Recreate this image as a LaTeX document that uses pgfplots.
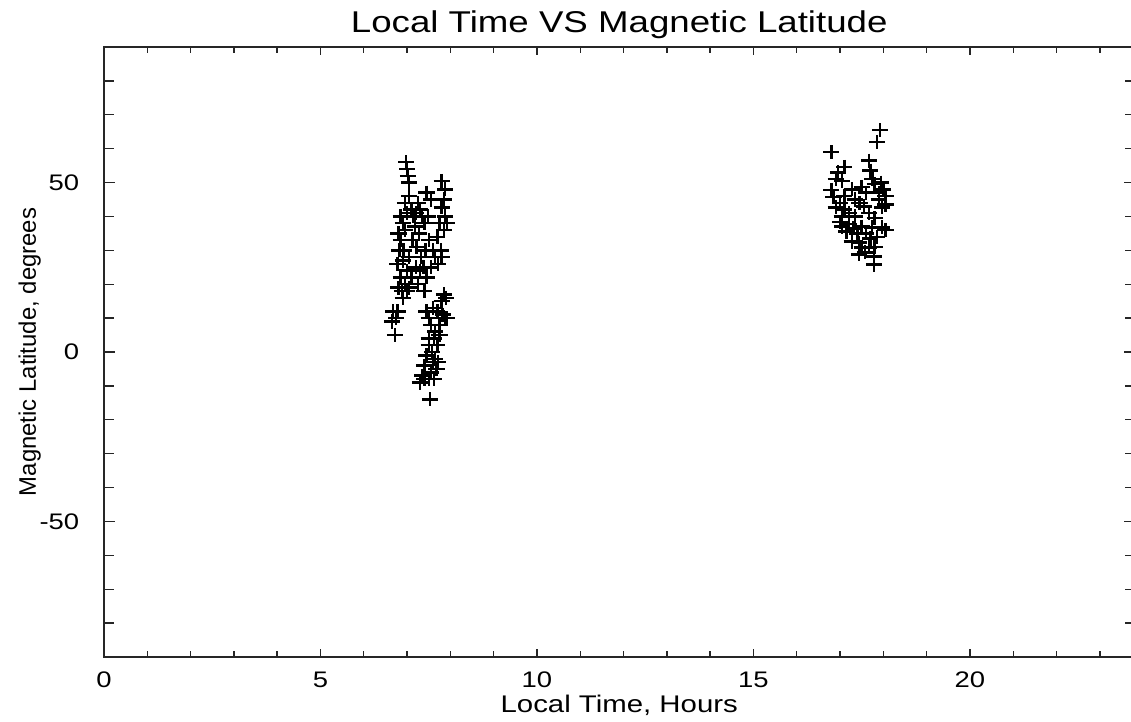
\documentclass[border=0pt]{standalone}
\usepackage{fontspec}
\setmainfont{Liberation Sans}
\usepackage{pgfplots}
\pgfplotsset{compat=1.18}
\begin{document}
\begin{tikzpicture}
\begin{axis}[
  scale only axis,
  width=20.61cm, height=12.2cm,
  xmin=0, xmax=23.8, ymin=-90, ymax=90,
  xtick={0,5,10,15,20}, xticklabels={0,5,10,15,20},
  ytick={-50,0,50}, yticklabels={-50,0,50},
  minor xtick={0,1,...,23}, minor ytick={-90,-80,...,90},
  tick align=inside, xtick pos=both, ytick pos=both,
  axis line style={draw=black!85, line width=0.8pt},
  every tick/.style={draw=black!85, line width=0.8pt},
  xtick style={/pgfplots/major tick length=0.16cm, /pgfplots/minor tick length=0.12cm},
  ytick style={/pgfplots/major tick length=0.22cm, /pgfplots/minor tick length=0.2cm},
  xticklabel style={font=\fontsize{12.8}{15}\selectfont, xscale=1.22, anchor=base, inner sep=0pt, yshift=-0.62cm},
  yticklabel style={font=\fontsize{12.8}{15}\selectfont, xscale=1.22, anchor=east, inner sep=0pt, xshift=-0.4cm},
  title={Local Time VS Magnetic Latitude},
  title style={font=\fontsize{17.1}{20}\selectfont, xscale=1.22, anchor=base, inner sep=0pt, at={([yshift=0.08cm]axis description cs:0.5,1)}},
  xlabel={Local Time, Hours},
  xlabel style={font=\fontsize{13.7}{16}\selectfont, xscale=1.22, anchor=base, inner sep=0pt, at={([yshift=-1.12cm]axis description cs:0.5,0)}},
  ylabel={Magnetic Latitude, degrees},
  ylabel style={font=\fontsize{13.6}{16}\selectfont, anchor=base, inner sep=0pt, rotate=0, at={([xshift=-1.36cm]axis description cs:0,0.5)}},
]
\addplot[only marks, mark=+, mark size=4pt, line width=1.4pt, black, mark options={xscale=1.15}] coordinates {
(6.98,56) (7.0,54) (7.02,52) (7.05,50) (6.95,44) (6.85,40) (6.9,38) (6.8,35) (6.85,33) (6.95,36)
(7.0,41) (7.1,42) (7.15,40) (6.82,30) (6.9,27) (6.78,26) (6.85,22) (6.8,19) (6.88,18) (6.95,20)
(7.0,18) (7.05,19) (6.9,16) (6.78,12) (6.75,10) (6.72,5) (7.1,22) (7.0,24) (7.05,28) (6.92,30)
(7.12,33) (7.18,37) (7.2,41) (7.25,44) (7.05,46) (6.65,9) (6.68,12)
(7.3,42) (7.35,40) (7.4,38) (7.28,35) (7.22,31) (7.32,28) (7.38,25) (7.3,24) (7.45,22) (7.42,30)
(7.5,33) (7.48,40) (7.55,45) (7.45,47) (7.2,25) (7.25,20) (7.4,18)
(7.8,50.5) (7.88,48) (7.85,45) (7.8,42.7) (7.88,40) (7.75,38) (7.85,36) (7.92,38) (7.7,34) (7.78,30)
(7.65,28) (7.72,26) (7.8,28) (7.6,30) (7.55,25) (7.85,17) (7.8,15) (7.9,16) (7.82,11) (7.88,10)
(7.92,10) (7.75,8) (7.7,12) (7.6,13) (7.65,6) (7.55,8) (7.5,10) (7.45,12) (7.62,4) (7.7,2)
(7.58,0) (7.5,2) (7.45,-1) (7.4,-4) (7.6,-3) (7.55,-6) (7.5,-8) (7.4,-8) (7.3,-9) (7.65,-2)
(7.72,-3) (7.68,-5) (7.53,-14) (7.75,5) (7.5,4) (7.35,-7) (7.62,-8)
};
\addplot[only marks, mark=+, mark size=4pt, line width=1.4pt, black, mark options={xscale=1.15}] coordinates {
(17.92,65.5) (17.85,62) (16.8,59) (17.67,56.5) (17.7,53.5) (17.1,54.6) (16.95,53) (16.9,51) (17.05,50.5) (17.75,51)
(17.8,49.5) (17.95,50) (18.0,48) (16.8,47.8) (17.27,48) (17.5,48.7) (17.6,47) (17.9,47) (18.05,46) (16.85,45.7)
(17.0,44) (17.34,45) (17.9,45) (17.97,42.7) (18.05,43.5) (16.9,42.7) (17.1,42) (17.2,41) (17.67,41) (17.55,43)
(17.04,40) (17.0,38.3) (17.05,37) (17.2,37.7) (17.3,36.5) (17.15,35.5) (17.5,37) (17.74,36.8) (17.97,36.8) (18.05,36)
(17.85,34) (17.6,35) (17.4,35) (17.27,32.6) (17.44,32.3) (17.5,30.9) (17.67,30.9) (17.44,28.8) (17.58,29.4) (17.78,28.2)
(17.8,31) (17.78,25.8) (17.7,33.5) (17.35,40) (17.8,39.5) (17.1,46) (17.45,44)
};
\end{axis}
\pgfresetboundingbox
\path[use as bounding box] (-2.08,-1.3) rectangle (20.54,13.14);
\end{tikzpicture}
\end{document}
